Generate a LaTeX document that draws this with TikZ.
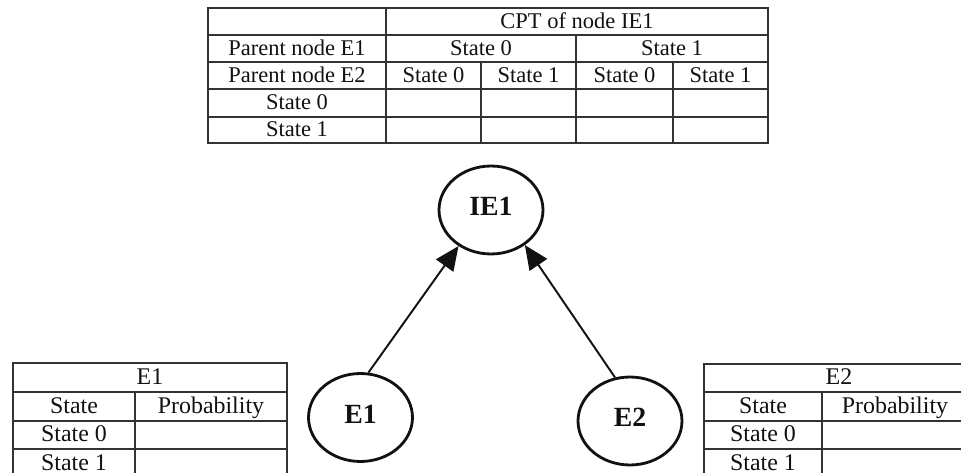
\documentclass[tikz,border=0pt]{standalone}
\usepackage{fontspec}
\setmainfont{Liberation Serif}
\usepackage{tikz}
\usetikzlibrary{arrows.meta,shapes.geometric}
\definecolor{ink}{HTML}{111111}
\definecolor{rule}{HTML}{333333}
\tikzset{
  bnode/.style={draw=ink,ellipse,line width=1.6pt,minimum width=2.08cm,
                minimum height=1.76cm,inner sep=0pt,text=ink,
                font=\fontsize{15.8}{18}\selectfont\bfseries,
                text height=0.66em,text depth=0pt},
  tabline/.style={draw=rule,line width=0.8pt},
  cell/.style={font=\fontsize{12.8}{15}\selectfont,text=ink,inner sep=0pt,
               text height=0.66em,text depth=0pt},
  scell/.style={font=\fontsize{13.6}{16}\selectfont,text=ink,inner sep=0pt,
                text height=0.66em,text depth=0pt},
  link/.style={-{Triangle[length=0.48cm,width=0.42cm]},line width=1.1pt,ink},
}
\begin{document}
\begin{tikzpicture}[x=0.02cm,y=-0.02cm]
  \useasboundingbox(0,0)rectangle(961,473);
  \clip(0,0)rectangle(961,473);
  \draw[tabline](208,8)rectangle(768,143);
  \foreach \yy in {35,62,89,117}\draw[tabline](208,\yy)--(768,\yy);
  \draw[tabline](386,8)--(386,143);
  \draw[tabline](576,35)--(576,143);
  \foreach \xx in {481,673}\draw[tabline](\xx,62)--(\xx,143);
  \node[cell](cpt)at(577,22.5){CPT of node IE1};
  \node[cell](pe1)at(297,49.5){Parent node E1};
  \node[cell](pe1s0)at(481,49.5){State 0};
  \node[cell](pe1s1)at(672,49.5){State 1};
  \node[cell](pe2)at(297,76.5){Parent node E2};
  \node[cell](pe2a)at(433.5,76.5){State 0};
  \node[cell](pe2b)at(528.5,76.5){State 1};
  \node[cell](pe2c)at(624.5,76.5){State 0};
  \node[cell](pe2d)at(720.5,76.5){State 1};
  \node[cell](ie1s0)at(297,104){State 0};
  \node[cell](ie1s1)at(297,131){State 1};
  \node[bnode](IE1)at(491,210){IE1};
  \node[bnode](E1)at(360.5,417.5){E1};
  \node[bnode](E2)at(630,421){E2};
  \draw[link](E1.80)--(IE1.228);
  \draw[link](E2.109)--(IE1.314);
  \draw[tabline](13,363)rectangle(287,478);
  \foreach \yy in {392,421,449}\draw[tabline](13,\yy)--(287,\yy);
  \draw[tabline](135,392)--(135,478);
  \node[scell](t1head)at(150,378.5){E1};
  \node[scell](t1state)at(74,407.5){State};
  \node[scell](t1prob)at(211,407.5){Probability};
  \node[scell](t1s0)at(74,436){State 0};
  \node[scell](t1s1)at(74,464.5){State 1};
  \draw[tabline](704,364)rectangle(975,478);
  \foreach \yy in {392,421,449}\draw[tabline](704,\yy)--(975,\yy);
  \draw[tabline](822,392)--(822,478);
  \node[scell](t2head)at(839,379){E2};
  \node[scell](t2state)at(763,407.5){State};
  \node[scell](t2prob)at(895,407.5){Probability};
  \node[scell](t2s0)at(763,436){State 0};
  \node[scell](t2s1)at(763,464.5){State 1};
\end{tikzpicture}
\end{document}
